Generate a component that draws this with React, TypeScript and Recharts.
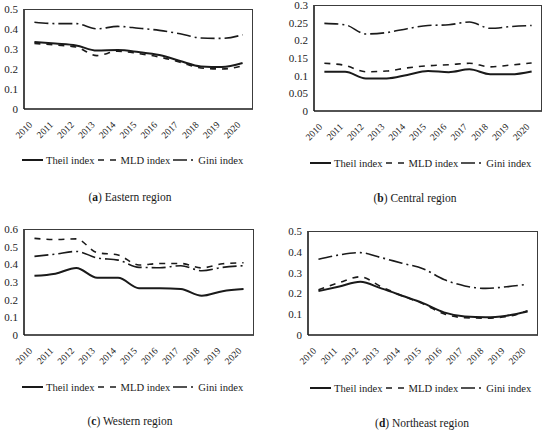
import { Legend, Line, LineChart, XAxis, YAxis } from "recharts"

const years = ["2010", "2011", "2012", "2013", "2014", "2015", "2016", "2017", "2018", "2019", "2020"]

const eastTheil = [0.335, 0.327, 0.318, 0.292, 0.295, 0.285, 0.27, 0.24, 0.213, 0.21, 0.23]
const eastMld = [0.328, 0.32, 0.31, 0.267, 0.289, 0.277, 0.26, 0.234, 0.205, 0.2, 0.216]
const eastGini = [0.434, 0.427, 0.427, 0.401, 0.413, 0.404, 0.393, 0.376, 0.355, 0.353, 0.371]

const centralTheil = [0.111, 0.111, 0.092, 0.092, 0.102, 0.113, 0.11, 0.118, 0.104, 0.104, 0.112]
const centralMld = [0.135, 0.129, 0.111, 0.113, 0.122, 0.128, 0.131, 0.135, 0.125, 0.13, 0.136]
const centralGini = [0.248, 0.244, 0.218, 0.222, 0.233, 0.242, 0.244, 0.252, 0.234, 0.239, 0.242]

const westTheil = [0.335, 0.347, 0.379, 0.324, 0.324, 0.265, 0.265, 0.26, 0.222, 0.248, 0.26]
const westMld = [0.547, 0.54, 0.544, 0.466, 0.453, 0.396, 0.405, 0.405, 0.38, 0.403, 0.409]
const westGini = [0.445, 0.458, 0.473, 0.436, 0.424, 0.383, 0.381, 0.392, 0.364, 0.383, 0.392]

const neTheil = [0.211, 0.233, 0.256, 0.224, 0.189, 0.153, 0.109, 0.089, 0.085, 0.093, 0.113]
const neMld = [0.217, 0.252, 0.28, 0.232, 0.189, 0.15, 0.102, 0.083, 0.081, 0.088, 0.117]
const neGini = [0.364, 0.385, 0.396, 0.372, 0.345, 0.319, 0.267, 0.236, 0.224, 0.232, 0.244]

const eastTicks = [0, 0.1, 0.2, 0.3, 0.4, 0.5]
const centralTicks = [0, 0.05, 0.1, 0.15, 0.2, 0.25, 0.3]
const westTicks = [0, 0.1, 0.2, 0.3, 0.4, 0.5, 0.6]
const neTicks = [0, 0.1, 0.2, 0.3, 0.4, 0.5]

const FONT = "'Liberation Serif', 'Times New Roman', serif"
const INK = "#1a1a1a"
const FRAME = "#3c3c3c"
const LEGEND_H = 20

const rows = (theil: number[], mld: number[], gini: number[]) =>
  years.map((year, i) => ({ year, theil: theil[i], mld: mld[i], gini: gini[i] }))

const seriesStyles = [
  { key: "theil", name: "Theil index", dash: undefined, width: 2, icon: 21 },
  { key: "mld", name: "MLD index", dash: "6 6", width: 1.6, icon: 20 },
  { key: "gini", name: "Gini index", dash: "14 4 2 4", width: 1.6, icon: 22 },
]

// year labels run up to the right, ending just under their point
const YearTick = ({ x, y, payload }: any) => (
  <text
    x={x - 1.5}
    y={y + 16.5}
    textAnchor="end"
    transform={`rotate(-45 ${x - 1.5} ${y + 16.5})`}
    fontFamily={FONT}
    fontSize={9.5}
    fill={INK}
  >
    {payload.value}
  </text>
)

const LegendKey = ({ x0 }: { x0: number }) => (
  <div style={{ display: "flex", alignItems: "center", height: LEGEND_H, paddingLeft: x0, fontFamily: FONT, fontSize: 10.6, color: INK }}>
    {seriesStyles.map((s) => (
      <div key={s.key} style={{ display: "flex", alignItems: "center" }}>
        <svg width={s.icon} height={10}>
          <line x1={0} y1={5} x2={s.icon} y2={5} stroke={INK} strokeWidth={s.width} strokeDasharray={s.dash} />
        </svg>
        <span style={{ marginLeft: 3, marginRight: 3 }}>{s.name}</span>
      </div>
    ))}
  </div>
)

type PanelProps = {
  left: number
  top: number
  data: { year: string; theil: number; mld: number; gini: number }[]
  ticks: number[]
  yWidth: number
  plotTop: number
  plotRight: number
  height: number
  axisHeight: number
  legendX: number
  caption: [string, string]
  captionX: number
  captionY: number
}

function Panel(p: PanelProps) {
  const max = p.ticks[p.ticks.length - 1]
  const plotW = 275 - p.yWidth - p.plotRight
  const plotH = p.height - p.plotTop - p.axisHeight - LEGEND_H
  return (
    <div style={{ position: "absolute", left: p.left, top: p.top, width: 275, height: 216 }}>
      <LineChart width={275} height={p.height} data={p.data} margin={{ top: p.plotTop, right: p.plotRight, left: 0, bottom: 0 }}>
        <XAxis
          dataKey="year"
          scale="band"
          height={p.axisHeight}
          interval={0}
          tickLine={false}
          tickSize={0}
          tickMargin={0}
          axisLine={{ stroke: INK, strokeWidth: 1.6 }}
          tick={<YearTick />}
        />
        <YAxis
          width={p.yWidth}
          domain={[0, max]}
          ticks={p.ticks}
          interval={0}
          tickLine={false}
          tickSize={0}
          tickMargin={6}
          axisLine={{ stroke: INK, strokeWidth: 1.6 }}
          tick={{ fontFamily: FONT, fontSize: 11, fill: INK }}
        />
        <Legend
          verticalAlign="bottom"
          wrapperStyle={{ left: 0, width: 275 }}
          content={() => <LegendKey x0={p.legendX} />}
        />
        {seriesStyles.map((s) => (
          <Line
            key={s.key}
            type="monotone"
            dataKey={s.key}
            name={s.name}
            stroke={INK}
            strokeWidth={s.width}
            strokeDasharray={s.dash}
            dot={false}
            activeDot={false}
            isAnimationActive={false}
          />
        ))}
      </LineChart>
      {/* thin top and right edges of the plot frame, laid over the chart */}
      <div
        style={{
          position: "absolute",
          zIndex: 2,
          left: p.yWidth,
          top: p.plotTop,
          width: plotW,
          height: plotH,
          boxSizing: "border-box",
          borderTop: `1px solid ${FRAME}`,
          borderRight: `1px solid ${FRAME}`,
          pointerEvents: "none",
        }}
      />
      <div
        style={{
          position: "absolute",
          left: p.captionX - 80,
          width: 160,
          top: p.captionY - 8,
          textAlign: "center",
          fontFamily: FONT,
          fontSize: 11.5,
          color: INK,
          whiteSpace: "nowrap",
        }}
      >
        (<b>{p.caption[0]}</b>) {p.caption[1]}
      </div>
    </div>
  )
}

export default function App() {
  return (
    <div style={{ position: "absolute", left: 0, top: 0, width: 550, height: 432, background: "#fff" }}>
      <Panel
        left={0}
        top={0}
        data={rows(eastTheil, eastMld, eastGini)}
        ticks={eastTicks}
        yWidth={24}
        plotTop={9}
        plotRight={22}
        height={170}
        axisHeight={41}
        legendX={22}
        caption={["a", "Eastern region"]}
        captionX={130}
        captionY={199}
      />
      <Panel
        left={275}
        top={0}
        data={rows(centralTheil, centralMld, centralGini)}
        ticks={centralTicks}
        yWidth={39}
        plotTop={5}
        plotRight={8}
        height={173}
        axisHeight={42}
        legendX={35}
        caption={["b", "Central region"]}
        captionX={140}
        captionY={200}
      />
      <Panel
        left={0}
        top={216}
        data={rows(westTheil, westMld, westGini)}
        ticks={westTicks}
        yWidth={24}
        plotTop={13}
        plotRight={21}
        height={181}
        axisHeight={42}
        legendX={22}
        caption={["c", "Western region"]}
        captionX={130}
        captionY={207}
      />
      <Panel
        left={275}
        top={216}
        data={rows(neTheil, neMld, neGini)}
        ticks={neTicks}
        yWidth={33}
        plotTop={15}
        plotRight={12}
        height={182}
        axisHeight={43}
        legendX={35}
        caption={["d", "Northeast region"]}
        captionX={147}
        captionY={209}
      />
    </div>
  )
}
